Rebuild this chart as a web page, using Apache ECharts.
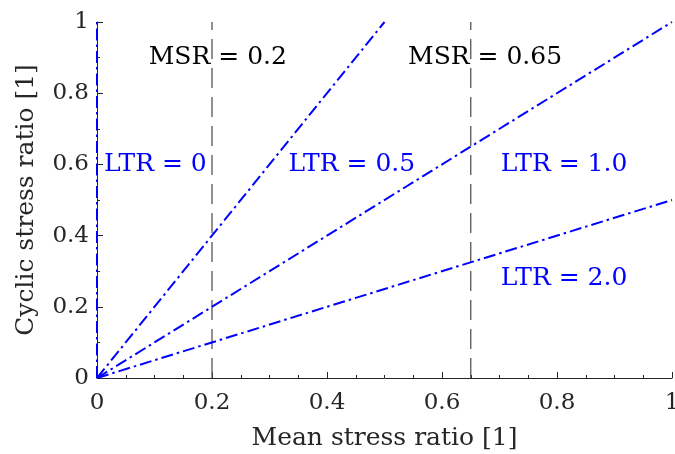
<!DOCTYPE html>
<html>
<head>
<meta charset="utf-8">
<script src="https://cdn.jsdelivr.net/npm/echarts@6/dist/echarts.min.js"></script>
<style>html,body{margin:0;padding:0;background:#fff;}#c{width:675px;height:454px;}</style>
</head>
<body>
<div id="c"></div>
<script>
// Load-to-tension ratio lines (x = mean stress ratio, y = cyclic stress ratio)
var ltr0 = [[0, 0], [0, 1]];
var ltr05 = [[0, 0], [0.5, 1]];
var ltr10 = [[0, 0], [1, 1]];
var ltr20 = [[0, 0], [1, 0.5]];
// Mean stress ratio reference lines
var msr02 = [[0.2, 0], [0.2, 1]];
var msr065 = [[0.65, 0], [0.65, 1]];
// Annotations
var blueTexts = [['LTR = 0', 0.012, 0.6], ['LTR = 0.5', 0.333, 0.6], ['LTR = 1.0', 0.702, 0.6], ['LTR = 2.0', 0.702, 0.28]];
var blackTexts = [['MSR = 0.2', 0.09, 0.9], ['MSR = 0.65', 0.541, 0.9]];

var FONT = 'DejaVu Serif';
var AX = '#262626';
var BLUE = '#0000ff';
var dashDot = [12, 4, 2.5, 4];

function lineSeries(d, color, type, width) {
  return {type: 'line', data: d, symbol: 'none', silent: true, animation: false,
    lineStyle: {color: color, width: width, type: type}};
}
function textSeries(arr, color) {
  return {type: 'scatter', symbolSize: 0, silent: true, animation: false,
    data: arr.map(function (t) { return {value: [t[1], t[2]], name: t[0]}; }),
    label: {show: true, position: 'right', distance: 0, formatter: '{b}', opacity: 1,
      fontFamily: FONT, fontSize: 25, color: color}};
}
var chart = echarts.init(document.getElementById('c'));
chart.setOption({
  backgroundColor: '#fff',
  animation: false,
  grid: {left: 97, right: 3, top: 22, bottom: 76, containLabel: false, outerBoundsMode: 'none'},
  xAxis: {type: 'value', min: 0, max: 1, interval: 0.2,
    name: 'Mean stress ratio [1]', nameLocation: 'middle', nameGap: 48,
    nameTextStyle: {fontFamily: FONT, fontSize: 25, color: AX},
    axisLine: {show: true, lineStyle: {color: AX, width: 1}},
    axisTick: {show: true, inside: true, length: 6, lineStyle: {color: AX}},
    minorTick: {show: true, splitNumber: 4, length: 3, lineStyle: {color: AX}},
    splitLine: {show: false},
    axisLabel: {fontFamily: FONT, fontSize: 23, color: AX, margin: 14}},
  yAxis: {type: 'value', min: 0, max: 1, interval: 0.2,
    name: 'Cyclic stress ratio [1]', nameLocation: 'middle', nameGap: 58,
    nameTextStyle: {fontFamily: FONT, fontSize: 25, color: AX},
    axisLine: {show: true, lineStyle: {color: AX, width: 1}},
    axisTick: {show: true, inside: true, length: 6, lineStyle: {color: AX}},
    minorTick: {show: true, splitNumber: 2, length: 3, lineStyle: {color: AX}},
    splitLine: {show: false},
    axisLabel: {fontFamily: FONT, fontSize: 23, color: AX, margin: 8}},
  series: [
    lineSeries(msr02, '#555555', [20, 9], 1.3),
    lineSeries(msr065, '#555555', [20, 9], 1.3),
    lineSeries(ltr0, BLUE, dashDot, 2),
    lineSeries(ltr05, BLUE, dashDot, 2),
    lineSeries(ltr10, BLUE, dashDot, 2),
    lineSeries(ltr20, BLUE, dashDot, 2),
    textSeries(blueTexts, BLUE),
    textSeries(blackTexts, '#000000')
  ]
});
</script>
</body>
</html>
